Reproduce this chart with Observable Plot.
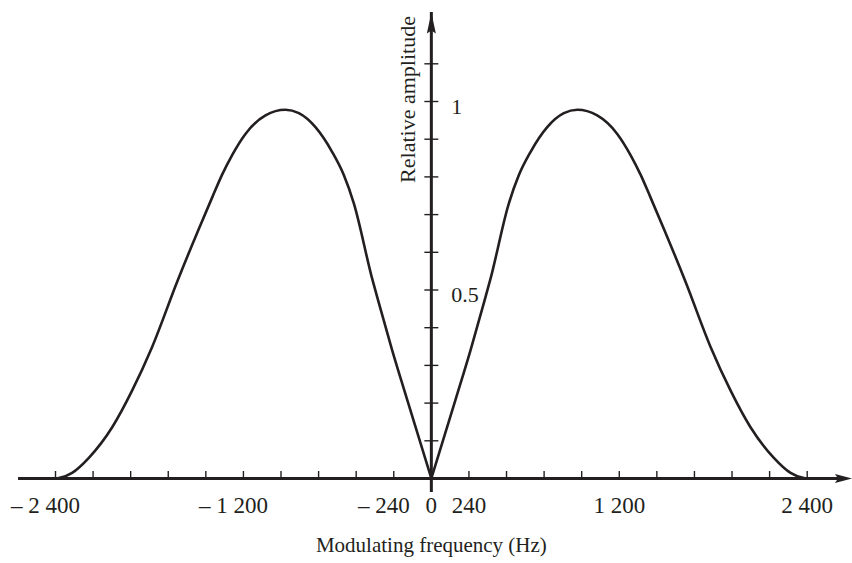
<!DOCTYPE html>
<html><head><meta charset="utf-8">
<script src="https://cdn.jsdelivr.net/npm/d3@7"></script>
<script src="https://cdn.jsdelivr.net/npm/@observablehq/plot@0.6"></script>
<style>html,body{margin:0;padding:0;background:#fff}svg{display:block}</style>
</head><body><div id="chart"></div>
<script>
// ---- data ----
const rightFreq = [0, 155, 250, 335, 378, 495, 559, 633, 740, 846, 932, 1059, 1187, 1272, 1336, 1400, 1485, 1623, 1783, 1911, 2038, 2187, 2294, 2379, 2400];
const rightAmp  = [0, 0.210, 0.340, 0.465, 0.530, 0.730, 0.805, 0.866, 0.932, 0.969, 0.978, 0.963, 0.914, 0.858, 0.806, 0.745, 0.662, 0.522, 0.349, 0.233, 0.136, 0.055, 0.015, 0.001, 0];
const leftFreq  = [0, -155, -250, -335, -378, -495, -559, -633, -740, -846, -932, -1059, -1187, -1272, -1336, -1400, -1485, -1623, -1783, -1911, -2038, -2187, -2294, -2379, -2400];
const leftAmp   = [0, 0.210, 0.340, 0.465, 0.530, 0.730, 0.805, 0.866, 0.932, 0.969, 0.978, 0.963, 0.914, 0.858, 0.806, 0.745, 0.662, 0.522, 0.349, 0.233, 0.136, 0.055, 0.015, 0.001, 0];

const xTickValues = [-2400, -2160, -1920, -1680, -1440, -1200, -960, -720, -480, -240, 240, 480, 720, 960, 1200, 1440, 1680, 1920, 2160, 2400];
const xLabelValues = [-2400, -1200, -240, 0, 240, 1200, 2400];
const xLabelTexts = ["\u2013 2 400", "\u2013 1 200", "\u2013 240", "0", "240", "1 200", "2 400"];
const yTickValues = [0.1, 0.2, 0.3, 0.4, 0.5, 0.6, 0.7, 0.8, 0.9, 1.0, 1.1];
const yLabelValues = [0.5, 1];
const yLabelTexts = ["0.5", "1"];
const xAxisExtent = [-2636, 2686];
const yAxisTop = 1.236;
const xTitle = "Modulating frequency (Hz)";
const yTitle = "Relative amplitude";

// ---- build ----
const ink = "#231f20";
const font = "'Liberation Serif', 'Times New Roman', 'DejaVu Serif', serif";

const curveData = [
  ...rightFreq.map((f, i) => ({f, a: rightAmp[i], side: "right"})),
  ...leftFreq.map((f, i) => ({f, a: leftAmp[i], side: "left"}))
];
const xLabels = xLabelValues.map((v, i) => ({v, t: xLabelTexts[i]}));
const yLabels = yLabelValues.map((v, i) => ({v, t: yLabelTexts[i]}));

const upArrow = {draw(c) { c.moveTo(0, 0); c.lineTo(4.5, 21); c.lineTo(0, 18); c.lineTo(-4.5, 21); c.closePath(); }};
const rightArrow = {draw(c) { c.moveTo(0, 0); c.lineTo(-17, 4.6); c.lineTo(-14, 0); c.lineTo(-17, -4.6); c.closePath(); }};
const upTick = {draw(c) { c.moveTo(0, 0); c.lineTo(0, -7.5); }};
const crossTick = {draw(c) { c.moveTo(-7, 0); c.lineTo(7, 0); }};

const chart = Plot.plot({
  width: 852,
  height: 563,
  marginLeft: 55,
  marginRight: 45.3,
  marginTop: 101,
  marginBottom: 85,
  x: {domain: [-2400, 2400], axis: null},
  y: {domain: [0, 1], axis: null},
  style: {fontFamily: font, color: ink, background: "#fff", overflow: "visible"},
  marks: [
    // axes lines
    Plot.ruleY([0], {x1: xAxisExtent[0], x2: xAxisExtent[1], stroke: ink, strokeWidth: 3, insetRight: 12}),
    Plot.ruleX([0], {y1: 0, y2: yAxisTop, stroke: ink, strokeWidth: 3, insetTop: 14}),
    // arrowheads
    Plot.dot([0], {x: xAxisExtent[1], y: 0, symbol: rightArrow, fill: ink, stroke: "none"}),
    Plot.dot([0], {x: 0, y: yAxisTop, symbol: upArrow, fill: ink, stroke: "none"}),
    // ticks
    Plot.dot(xTickValues, {x: d => d, y: 0, symbol: upTick, fill: "none", stroke: ink, strokeWidth: 1.4}),
    Plot.dot(yTickValues, {x: 0, y: d => d, symbol: crossTick, fill: "none", stroke: ink, strokeWidth: 1.4}),
    // curve
    Plot.line(curveData, {x: "f", y: "a", z: "side", curve: "monotone-x", stroke: ink, strokeWidth: 2.6}),
    // tick labels
    Plot.text(xLabels.filter(d => d.v < 0), {x: "v", y: 0, text: "t", dx: -10, dy: 27, fontSize: 23, fill: ink}),
    Plot.text(xLabels.filter(d => d.v >= 0), {x: "v", y: 0, text: "t", dx: 0, dy: 27, fontSize: 23, fill: ink}),
    Plot.text(yLabels, {x: 0, y: "v", text: "t", textAnchor: "start", dx: 20, dy: 5, fontSize: 22, fill: ink}),
    // titles
    Plot.text([xTitle], {frameAnchor: "bottom", text: d => d, dy: 73, fontSize: 21, fill: ink}),
    Plot.text([yTitle], {x: 0, y: 1, text: d => d, rotate: -90, dx: -23, dy: -2, fontSize: 22, fill: ink})
  ]
});
document.getElementById("chart").appendChild(chart);
</script>
</body></html>
